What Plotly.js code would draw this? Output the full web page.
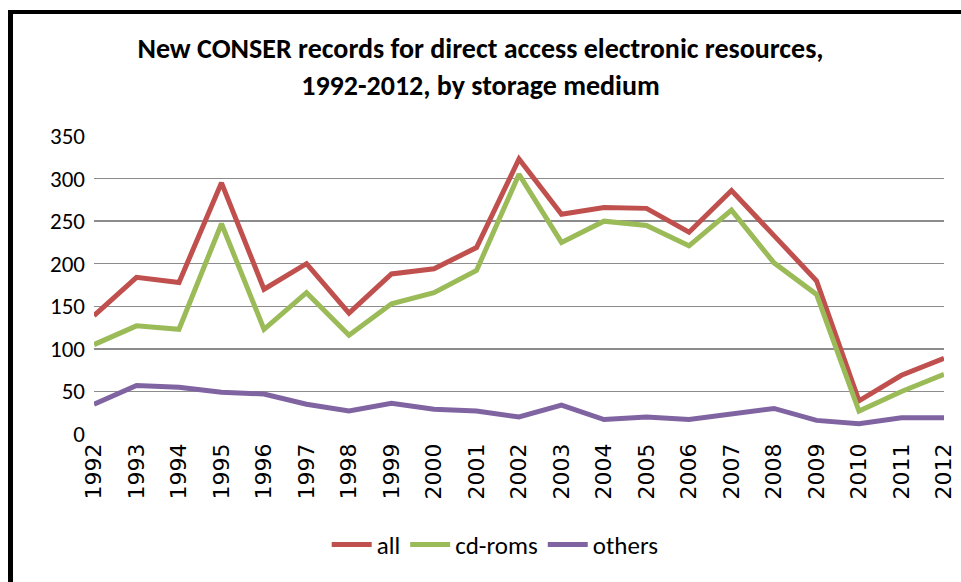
<!DOCTYPE html>
<html>
<head>
<meta charset="utf-8">
<script src="https://cdn.plot.ly/plotly-3.0.1.min.js"></script>
<style>
  html, body { margin: 0; padding: 0; background: #fff; }
  #wrap { position: relative; width: 961px; height: 582px; overflow: hidden; }
  #chart { position: absolute; left: 0; top: 0; width: 961px; height: 582px; }
  #frame { position: absolute; left: 8px; top: 10px; width: 980px; height: 600px;
           border-left: 5px solid #000; border-top: 4px solid #000; pointer-events: none; }
</style>
</head>
<body>
<div id="wrap">
  <div id="chart"></div>
  <div id="frame"></div>
</div>
<script>
const years = ["1992","1993","1994","1995","1996","1997","1998","1999","2000","2001","2002",
               "2003","2004","2005","2006","2007","2008","2009","2010","2011","2012"];
const allRecords = [139,184,178,295,170,200,142,188,194,219,323,258,266,265,237,286,233,180,39,69,89];
const cdRoms     = [105,127,123,247,123,166,116,153,166,192,305,225,250,245,221,263,201,164,27,50,70];
const others     = [35,57,55,49,47,35,27,36,29,27,20,34,17,20,17,24,30,16,12,19,19];
const yTicks = [0,50,100,150,200,250,300,350];

const labelFont = "Calibri, Carlito, 'Open Sans', 'Noto Sans', sans-serif";

const traces = [
  {x: years, y: allRecords, name: "all", type: "scatter", mode: "lines",
   line: {color: "#C0504D", width: 5}},
  {x: years, y: cdRoms, name: "cd-roms", type: "scatter", mode: "lines",
   line: {color: "#9BBB59", width: 5}},
  {x: years, y: others, name: "others", type: "scatter", mode: "lines",
   line: {color: "#8064A2", width: 5}}
];

const layout = {
  width: 961, height: 582,
  margin: {l: 94, r: 17, t: 136, b: 148},
  paper_bgcolor: "#fff", plot_bgcolor: "#fff",
  title: {
    text: "<b>New CONSER records for direct access electronic resources,<br>1992-2012, by storage medium</b>",
    font: {family: labelFont, size: 28, color: "#000"},
    x: 0.5, xanchor: "center", y: 0.9, yanchor: "middle"
  },
  xaxis: {
    type: "category", range: [0, years.length - 1],
    tickangle: -90, showgrid: false, zeroline: false, showline: false,
    ticks: "", tickfont: {family: "'DejaVu Sans', sans-serif", size: 22, color: "#000"},
    ticklabelstandoff: 4, automargin: false
  },
  yaxis: {
    range: [0, 350], tickvals: yTicks, ticktext: yTicks.map(String),
    showgrid: true, gridcolor: "#8c8c8c", gridwidth: 1.5,
    zeroline: false, showline: false, ticks: "",
    tickfont: {family: labelFont, size: 23, color: "#000"},
    ticklabelstandoff: 8, automargin: false
  },
  showlegend: true,
  legend: {
    orientation: "h", x: 0.472, xanchor: "center", y: -0.372, yanchor: "middle",
    font: {family: labelFont, size: 25, color: "#000"},
    bgcolor: "rgba(0,0,0,0)", itemwidth: 40
  }
};

Plotly.newPlot("chart", traces, layout, {displayModeBar: false, staticPlot: true});
</script>
</body>
</html>
